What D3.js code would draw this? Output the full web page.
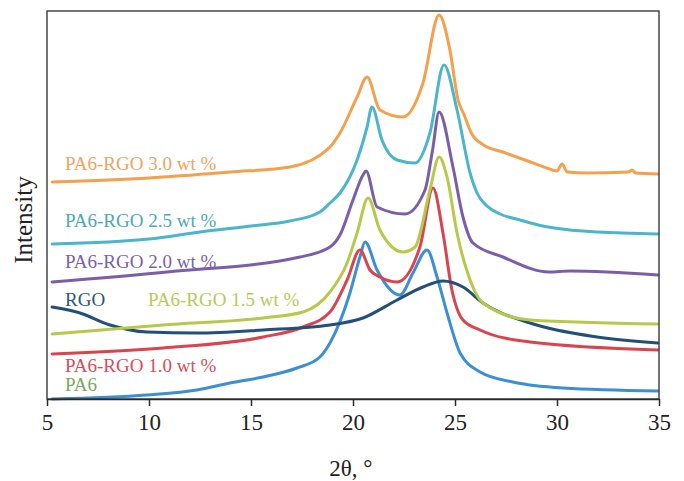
<!DOCTYPE html>
<html>
<head>
<meta charset="utf-8">
<script src="https://cdn.jsdelivr.net/npm/d3@7/dist/d3.min.js"></script>
<style>
  body { margin: 0; background: #fff; }
  text { font-family: "Liberation Serif", "Times New Roman", serif; }
</style>
</head>
<body>
<svg id="chart" width="684" height="481"></svg>
<script>
// XRD patterns: [2θ (°), intensity (arb. units, curves offset vertically)]
const xTicks = [5, 10, 15, 20, 25, 30, 35];

const pa6 = [
  [5.25, 0], [9.9, 4], [12.35, 9], [13.97, 16], [15.59, 22], [17.25, 31],
  [18.38, 42], [18.87, 56], [19.85, 106], [20.34, 142], [20.59, 157],
  [21.18, 129], [22.3, 104], [22.94, 126], [23.63, 149], [24.12, 122],
  [24.61, 86], [25.25, 46], [26.23, 27], [27.84, 17], [30.29, 11], [34.95, 8]
];
const rgo = [
  [5.25, 92], [6.62, 86], [8.09, 74], [9.9, 67], [12.35, 66], [15.59, 69],
  [18.87, 74], [20.49, 81], [22.16, 99], [23.43, 112], [24.41, 118],
  [25.39, 112], [26.37, 96], [28.68, 76], [31.96, 62], [34.95, 56]
];
const rgo10 = [
  [5.25, 45], [10.69, 51], [15.59, 62], [17.55, 72], [18.87, 87], [19.71, 119],
  [20.34, 149], [20.83, 129], [21.32, 122], [22.16, 117], [23.28, 152],
  [23.92, 211], [24.41, 166], [24.85, 109], [25.39, 79], [26.23, 69],
  [28.68, 57], [34.95, 49]
];
const rgo15 = [
  [5.25, 65], [10.69, 74], [15.59, 81], [17.55, 87], [18.87, 107], [19.71, 136],
  [20.2, 166], [20.74, 201], [21.32, 169], [22.45, 147], [23.04, 152],
  [23.77, 209], [24.22, 242], [24.61, 222], [25.1, 166], [25.74, 119],
  [26.37, 96], [28.68, 79], [34.95, 75]
];
const rgo20 = [
  [5.25, 117], [10.88, 127], [17.4, 142], [18.87, 152], [19.36, 164],
  [20.0, 199], [20.49, 224], [20.64, 228], [21.18, 192], [22.55, 185],
  [23.53, 209], [23.9, 249], [24.22, 287], [24.9, 232], [25.39, 182],
  [25.88, 156], [27.35, 142], [29.6, 127], [30.64, 128], [34.95, 124]
];
const rgo25 = [
  [5.25, 155], [10.0, 160], [12.5, 167], [15.0, 173], [16.9, 178], [18.38, 187],
  [18.87, 196], [19.36, 206], [20.2, 239], [20.69, 272], [20.93, 292],
  [21.42, 259], [22.16, 239], [23.04, 236], [23.77, 266], [24.46, 334],
  [25.1, 289], [25.74, 226], [26.08, 206], [26.57, 193], [27.21, 185],
  [28.19, 179], [29.3, 173], [30.64, 169], [32.0, 167], [34.95, 165]
];
const rgo30 = [
  [5.25, 217], [10.0, 221], [14.0, 227], [16.9, 232], [18.87, 252], [19.36, 266],
  [20.2, 302], [20.69, 322], [21.32, 289], [22.45, 282], [23.43, 316],
  [24.22, 384], [24.75, 349], [25.15, 299], [25.45, 284], [25.8, 266],
  [26.4, 254], [27.35, 247], [28.7, 237], [29.5, 231], [30.0, 228],
  [30.25, 235], [30.5, 227], [31.5, 226], [33.5, 227], [33.68, 229],
  [33.85, 226], [34.95, 225]
];

const seriesNames = ["PA6", "PA6-RGO 1.0 wt %", "RGO", "PA6-RGO 1.5 wt %",
                     "PA6-RGO 2.0 wt %", "PA6-RGO 2.5 wt %", "PA6-RGO 3.0 wt %"];
const seriesData = [pa6, rgo10, rgo, rgo15, rgo20, rgo25, rgo30];
const lineColors = ["#3b8fd2", "#d9444f", "#234f78", "#b7c94a", "#7b5ea8", "#4bb6c9", "#f4a04c"];
const labelColors = ["#7aa862", "#d84d5b", "#2d5878", "#b9c95a", "#7a62a8", "#4aaab6", "#f0a460"];

// label anchor points (pixels)
const labelPos = [[65, 391], [65, 372], [65, 306], [148, 306], [65, 268], [65, 227], [65, 170]];

const W = 684, H = 481;
const margin = { top: 11, right: 25, bottom: 82, left: 47 };
const iw = W - margin.left - margin.right;
const ih = H - margin.top - margin.bottom;

const svg = d3.select("#chart");
const g = svg.append("g").attr("transform", `translate(${margin.left},${margin.top})`);

const x = d3.scaleLinear().domain([5, 35]).range([0, iw]);
const y = d3.scaleLinear().domain([0, ih]).range([ih, 0]);

const line = d3.line()
  .x(d => x(d[0]))
  .y(d => y(d[1]))
  .curve(d3.curveMonotoneX);

// curves
g.selectAll("path.trace")
  .data(seriesData)
  .join("path")
  .attr("class", "trace")
  .attr("fill", "none")
  .attr("stroke", (d, i) => lineColors[i])
  .attr("stroke-width", 3)
  .attr("stroke-linejoin", "round")
  .attr("stroke-linecap", "round")
  .attr("d", line);

// frame
g.append("rect")
  .attr("x", 0).attr("y", 0)
  .attr("width", iw).attr("height", ih)
  .attr("fill", "none")
  .attr("stroke", "#3a3a3a")
  .attr("stroke-width", 1.4);

// bottom axis
const xAxis = d3.axisBottom(x)
  .tickValues(xTicks)
  .tickSize(7)
  .tickSizeOuter(0)
  .tickPadding(8);

const ax = g.append("g")
  .attr("transform", `translate(0,${ih})`)
  .call(xAxis);
ax.select(".domain").attr("stroke", "#2a2a2a").attr("stroke-width", 1.4);
ax.selectAll(".tick line").attr("stroke", "#2a2a2a").attr("stroke-width", 1.5);
ax.selectAll(".tick text")
  .attr("fill", "#222")
  .style("font-family", '"Liberation Serif", serif')
  .style("font-size", "23px");

// axis titles
svg.append("text")
  .attr("x", margin.left + x(19.9))
  .attr("y", 476)
  .attr("text-anchor", "middle")
  .attr("fill", "#222")
  .style("font-size", "23px")
  .text("2θ, °");

svg.append("text")
  .attr("transform", "translate(32,220) rotate(-90)")
  .attr("text-anchor", "middle")
  .attr("fill", "#222")
  .style("font-size", "25px")
  .text("Intensity");

// series labels
svg.selectAll("text.lab")
  .data(seriesNames)
  .join("text")
  .attr("class", "lab")
  .attr("x", (d, i) => labelPos[i][0])
  .attr("y", (d, i) => labelPos[i][1])
  .attr("fill", (d, i) => labelColors[i])
  .style("font-size", "19px")
  .text(d => d);
</script>
</body>
</html>
